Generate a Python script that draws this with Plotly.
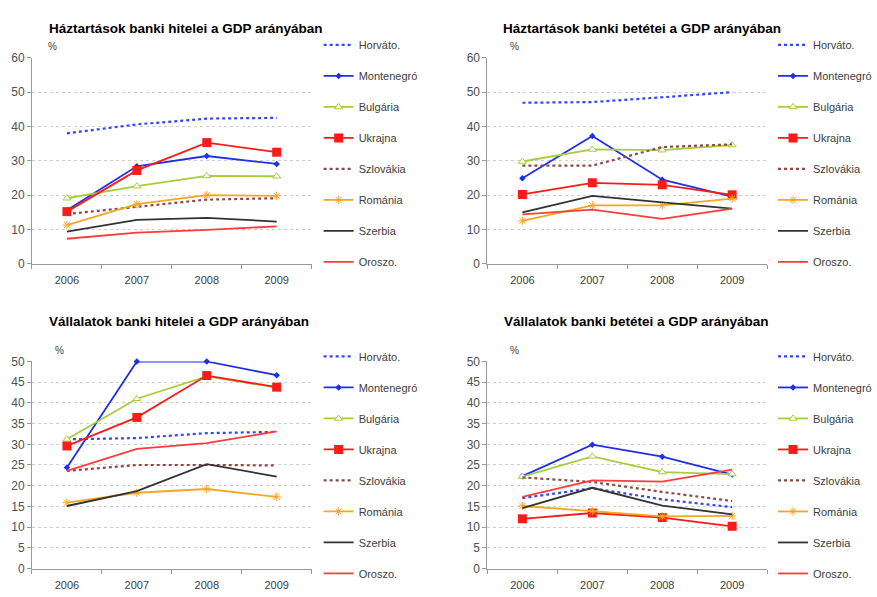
import plotly.graph_objects as go

years = ["2006", "2007", "2008", "2009"]
countries = ["Horváto.", "Montenegró", "Bulgária", "Ukrajna", "Szlovákia", "Románia", "Szerbia", "Oroszo."]

titles = [
    "Háztartások banki hitelei a GDP arányában",
    "Háztartások banki betétei a GDP arányában",
    "Vállalatok banki hitelei a GDP arányában",
    "Vállalatok banki betétei a GDP arányában",
]

# values per country (order as in countries), 2006..2009
hh_loans = [
    [38.0, 40.6, 42.3, 42.5],
    [15.6, 28.4, 31.4, 29.1],
    [19.1, 22.6, 25.6, 25.5],
    [15.2, 27.2, 35.3, 32.5],
    [14.5, 16.5, 18.7, 19.1],
    [11.3, 17.4, 20.0, 19.8],
    [9.4, 12.8, 13.4, 12.3],
    [7.3, 9.1, 9.9, 10.9],
]
hh_deposits = [
    [46.9, 47.1, 48.5, 50.0],
    [24.9, 37.2, 24.5, 19.6],
    [29.8, 33.3, 33.1, 34.6],
    [20.2, 23.6, 23.0, 20.1],
    [28.6, 28.6, 34.0, 34.8],
    [12.5, 17.0, 17.0, 19.0],
    [15.0, 19.8, 17.9, 16.1],
    [14.4, 15.8, 13.1, 16.1],
]
corp_loans = [
    [31.2, 31.5, 32.7, 33.0],
    [24.4, 50.0, 50.0, 46.7],
    [31.2, 41.0, 46.4, 43.7],
    [29.6, 36.5, 46.6, 43.8],
    [23.6, 25.0, 25.0, 24.9],
    [15.9, 18.3, 19.2, 17.3],
    [15.1, 18.7, 25.2, 22.2],
    [23.6, 28.9, 30.3, 33.1],
]
corp_deposits = [
    [17.0, 19.4, 16.7, 14.8],
    [22.3, 29.9, 27.0, 22.7],
    [22.2, 27.1, 23.3, 22.8],
    [12.0, 13.4, 12.3, 10.2],
    [22.0, 20.9, 18.5, 16.3],
    [15.1, 13.9, 12.6, 12.7],
    [14.6, 19.5, 15.2, 13.1],
    [17.3, 21.3, 21.0, 23.9],
]
panels = [hh_loans, hh_deposits, corp_loans, corp_deposits]
y_max = [60, 60, 50, 50]
y_dtick = [10, 10, 5, 5]

colors = ["#3344FF", "#1F2FE8", "#A6CE39", "#FF1A1A", "#8B4A4A", "#F5A623", "#333333", "#FF3B3B"]
dashes = ["dot", "solid", "solid", "solid", "dot", "solid", "solid", "solid"]
widths = [2.2, 1.8, 1.8, 1.8, 2.2, 1.8, 1.8, 1.8]
symbols = [None, "diamond", "triangle-up", "square", None, "asterisk-open", None, None]
msizes = [0, 5, 7, 9, 0, 7, 0, 0]

W, H = 877, 597
# plot areas in pixels: (x0, x1, ytop, ybottom)
areas = [(32, 312, 52, 263), (488, 768, 52, 263), (32, 312, 363, 575), (488, 768, 363, 575)]
legend_pos = [(319, 24), (774, 24), (319, 343), (774, 343)]
title_pos = [(47, 22), (502, 22), (47, 322), (503, 322)]
pct_pos = [(53, 40), (515, 40), (60, 352), (515, 352)]

fig = go.Figure()
for p, data in enumerate(panels):
    xa = "x" if p == 0 else f"x{p+1}"
    ya = "y" if p == 0 else f"y{p+1}"
    lg = "legend" if p == 0 else f"legend{p+1}"
    for i, c in enumerate(countries):
        mode = "lines+markers" if symbols[i] else "lines"
        marker = dict(symbol=symbols[i], size=msizes[i], color=colors[i]) if symbols[i] else None
        if symbols[i] == "triangle-up":
            marker = dict(symbol="triangle-up", size=msizes[i], color="white",
                          line=dict(color=colors[i], width=1))
        if symbols[i] == "asterisk-open":
            marker = dict(symbol="asterisk-open", size=msizes[i], color=colors[i],
                          line=dict(color=colors[i], width=1))
        fig.add_trace(go.Scatter(
            x=years, y=data[i], name=c, mode=mode, xaxis=xa, yaxis=ya,
            line=dict(color=colors[i], dash=dashes[i], width=widths[i]),
            marker=marker, legend=lg, legendgroup=f"{p}-{i}", cliponaxis=False,
        ))

layout = dict(width=W, height=H, margin=dict(l=0, r=0, t=0, b=0),
              paper_bgcolor="white", plot_bgcolor="white",
              font=dict(family="Liberation Sans, Arial, sans-serif", color="#404040"),
              annotations=[])
for p in range(4):
    x0, x1, yt, yb = areas[p]
    sfx = "" if p == 0 else str(p + 1)
    layout["xaxis" + sfx] = dict(
        domain=[x0 / W, x1 / W], anchor="y" + sfx, type="category", range=[-0.5, 3.5],
        showline=True, linecolor="#9a9a9a", linewidth=1, ticks="outside", ticklen=4,
        tickcolor="#9a9a9a", tickson="boundaries", showgrid=False, ticklabelstandoff=6,
        tickfont=dict(size=11, color="#404040"), fixedrange=True,
    )
    layout["yaxis" + sfx] = dict(
        domain=[1 - yb / H, 1 - yt / H], anchor="x" + sfx, range=[0, y_max[p]], dtick=y_dtick[p],
        showline=True, linecolor="#9a9a9a", linewidth=1, ticks="outside", ticklen=4,
        tickcolor="#9a9a9a", showgrid=True, gridcolor="#cfcfcf", griddash="dot", gridwidth=1,
        zeroline=False, tickfont=dict(size=12, color="#505050"), fixedrange=True,
    )
    lx, ly = legend_pos[p]
    layout["legend" + sfx] = dict(
        x=lx / W, y=1 - ly / H, xanchor="left", yanchor="top", xref="paper", yref="paper",
        font=dict(size=11, color="#404040"), tracegroupgap=12, traceorder="grouped",
        bgcolor="rgba(0,0,0,0)", borderwidth=0,
    )
    tx, ty = title_pos[p]
    layout["annotations"].append(dict(
        text=f"<b>{titles[p]}</b>", x=tx / W, y=1 - ty / H, xref="paper", yref="paper",
        xanchor="left", yanchor="middle", showarrow=False,
        font=dict(size=13.5, color="#000000"),
    ))
    px, py = pct_pos[p]
    layout["annotations"].append(dict(
        text="%", x=px / W, y=1 - py / H, xref="paper", yref="paper",
        xanchor="center", yanchor="middle", showarrow=False,
        font=dict(size=10, color="#404040"),
    ))

fig.update_layout(**layout)
fig.write_html("out.html")
